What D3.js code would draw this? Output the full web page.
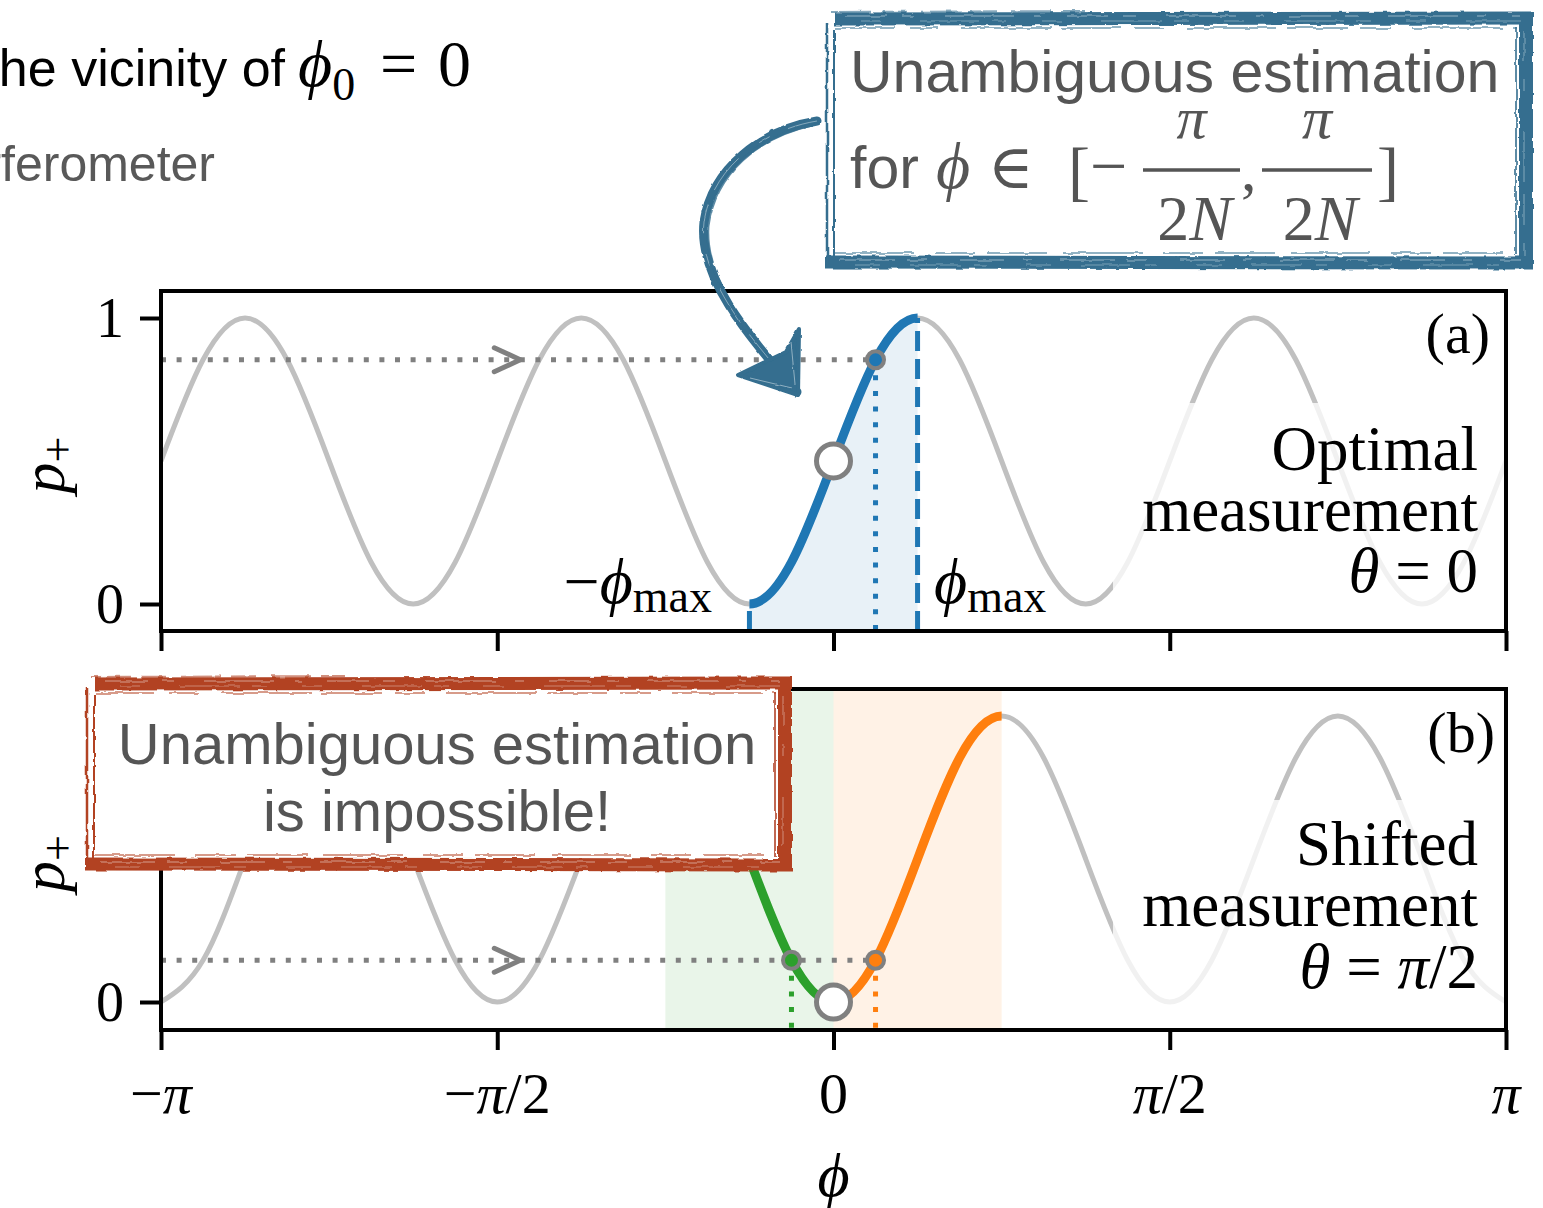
<!DOCTYPE html>
<html>
<head>
<meta charset="utf-8">
<script src="https://cdn.jsdelivr.net/npm/d3@7"></script>
<style>
  html, body { margin: 0; padding: 0; background: #fff; }
  svg { display: block; }
</style>
</head>
<body>
<svg id="fig" width="1543" height="1208"></svg>
<script>
// ---------------- data ----------------
// φ sample grid in units of π/16, covering [−π, π]
const phiSixteenths = [-16,-15,-14,-13,-12,-11,-10,-9,-8,-7,-6,-5,-4,-3,-2,-1,0,
                       1,2,3,4,5,6,7,8,9,10,11,12,13,14,15,16];
// p+ at each grid point, optimal measurement (θ = 0)
const pOptimal = [0.5,0.854,1,0.854,0.5,0.146,0,0.146,
                  0.5,0.854,1,0.854,0.5,0.146,0,0.146,
                  0.5,0.854,1,0.854,0.5,0.146,0,0.146,
                  0.5,0.854,1,0.854,0.5,0.146,0,0.146, 0.5];
// p+ at each grid point, shifted measurement (θ = π/2)
const pShifted = [0,0.146,0.5,0.854,1,0.854,0.5,0.146,
                  0,0.146,0.5,0.854,1,0.854,0.5,0.146,
                  0,0.146,0.5,0.854,1,0.854,0.5,0.146,
                  0,0.146,0.5,0.854,1,0.854,0.5,0.146, 0];

const xTickValues = [-Math.PI, -Math.PI / 2, 0, Math.PI / 2, Math.PI];
const xTickLabels = ["−π", "−π/2", "0", "π/2", "π"];
const yTickValues = [0, 1];
const yTickLabels = ["0", "1"];

const phiMax = Math.PI / 8;          // π/(2N), N = 4
const phiEstimate = Math.PI / 16;    // example phase estimate
const pEstimateOptimal = 0.854;
const pEstimateShifted = 0.146;
const phiOrigin = 0;                 // working point φ0
const pOriginOptimal = 0.5;
const pOriginShifted = 0;
const shiftedBranchLeft = [-Math.PI / 4, 0];
const shiftedBranchRight = [0, Math.PI / 4];

// ---------------- styling ----------------
const SERIF = "'Liberation Serif','DejaVu Serif',serif";
const SANS = "'Liberation Sans','Helvetica','Arial',sans-serif";
const GRAY_CURVE = "#c0c0c0";
const MARK_GRAY = "#808080";
const BLUE = "#1f77b4", GREEN = "#2ca02c", ORANGE = "#ff7f0e";
const NOTE_BLUE = "#346e8f", NOTE_RED = "#b24224";
const NOTE_TEXT = "#555555";

const svg = d3.select("#fig");
const defs = svg.append("defs");

// brush-like edge roughness for the hand-drawn notes
function roughFilter(id, freq, scale, seed) {
  const f = defs.append("filter").attr("id", id)
    .attr("filterUnits", "userSpaceOnUse")
    .attr("x", 0).attr("y", 0).attr("width", 1543).attr("height", 1208);
  f.append("feTurbulence").attr("type", "fractalNoise")
    .attr("baseFrequency", freq).attr("numOctaves", 2).attr("seed", seed).attr("result", "noise");
  f.append("feDisplacementMap").attr("in", "SourceGraphic").attr("in2", "noise")
    .attr("scale", scale).attr("xChannelSelector", "R").attr("yChannelSelector", "G");
}
roughFilter("rough", "0.09", 3.5, 5);
roughFilter("roughSoft", "0.12", 2.5, 9);

const x = d3.scaleLinear().domain([-Math.PI, Math.PI]).range([161, 1506]);

// ---------------- helpers ----------------
function drawMath(parent, px, py, parts, opt = {}) {
  const t = parent.append("text")
    .attr("x", px).attr("y", py)
    .attr("text-anchor", opt.anchor || "middle")
    .attr("font-family", opt.family || SERIF)
    .attr("font-size", opt.size || 56)
    .attr("fill", opt.fill || "#000");
  parts.forEach(p => {
    const s = t.append("tspan").text(p.t);
    if (p.it) s.attr("font-style", "italic");
    if (p.size) s.attr("font-size", p.size);
    if (p.dy) s.attr("dy", p.dy);
    if (p.dx) s.attr("dx", p.dx);
  });
  return t;
}
function splitMath(str) {
  return Array.from(str).map(c => ({ t: c, it: /[πϕθN]/.test(c) }));
}
function clipRange(id, phiA, phiB, top, bottom) {
  defs.append("clipPath").attr("id", id).append("rect")
    .attr("x", x(phiA)).attr("y", top - 20)
    .attr("width", x(phiB) - x(phiA)).attr("height", bottom - top + 40);
  return `url(#${id})`;
}
function chevron(g, cx, cy) {
  g.append("path").attr("d", `M${cx - 24},${cy - 12}L${cx + 2},${cy}L${cx - 24},${cy + 12}`)
    .attr("fill", "none").attr("stroke", MARK_GRAY).attr("stroke-width", 5)
    .attr("stroke-linecap", "round").attr("stroke-linejoin", "round");
}

const panels = [
  { id: "a", top: 291, bottom: 631, yRange: [604, 318], values: pOptimal, yLabels: [0, 1] },
  { id: "b", top: 689, bottom: 1030, yRange: [1002, 716], values: pShifted, yLabels: [0] }
];

panels.forEach(P => {
  const y = d3.scaleLinear().domain([0, 1]).range(P.yRange);
  const pts = phiSixteenths.map((k, i) => ({ phi: k * Math.PI / 16, p: P.values[i] }));
  const line = d3.line().x(d => x(d.phi)).y(d => y(d.p)).curve(d3.curveNatural);

  defs.append("clipPath").attr("id", "frame-" + P.id).append("rect")
    .attr("x", x.range()[0]).attr("y", P.top)
    .attr("width", x.range()[1] - x.range()[0]).attr("height", P.bottom - P.top);
  const g = svg.append("g").attr("clip-path", `url(#frame-${P.id})`);

  if (P.id === "a") {
    // shaded unambiguous window under the curve
    const area = d3.area().x(d => x(d.phi)).y0(P.bottom).y1(d => y(d.p)).curve(d3.curveNatural);
    g.append("path").attr("d", area(pts))
      .attr("fill", BLUE).attr("fill-opacity", 0.1)
      .attr("clip-path", clipRange("win-a", -phiMax, phiMax, P.top, P.bottom));
    g.append("path").attr("d", line(pts)).attr("fill", "none")
      .attr("stroke", GRAY_CURVE).attr("stroke-width", 5);
    // window edges
    [[-phiMax, 0], [phiMax, 1]].forEach(([ph, pv]) => {
      g.append("line").attr("x1", x(ph)).attr("x2", x(ph))
        .attr("y1", P.bottom).attr("y2", y(pv))
        .attr("stroke", BLUE).attr("stroke-width", 5).attr("stroke-dasharray", "20,8");
    });
    // reading of the measured probability
    g.append("line").attr("x1", x(-Math.PI)).attr("x2", x(phiEstimate))
      .attr("y1", y(pEstimateOptimal)).attr("y2", y(pEstimateOptimal))
      .attr("stroke", MARK_GRAY).attr("stroke-width", 5).attr("stroke-dasharray", "5,10.6");
    chevron(g, x((-Math.PI + phiEstimate) / 2), y(pEstimateOptimal));
    g.append("path").attr("d", line(pts)).attr("fill", "none")
      .attr("stroke", BLUE).attr("stroke-width", 9)
      .attr("clip-path", clipRange("seg-a", -phiMax, phiMax, P.top, P.bottom));
    g.append("line").attr("x1", x(phiEstimate)).attr("x2", x(phiEstimate))
      .attr("y1", y(pEstimateOptimal)).attr("y2", P.bottom)
      .attr("stroke", BLUE).attr("stroke-width", 5).attr("stroke-dasharray", "5,10.6");
    g.append("circle").attr("cx", x(phiEstimate)).attr("cy", y(pEstimateOptimal)).attr("r", 8.5)
      .attr("fill", BLUE).attr("stroke", MARK_GRAY).attr("stroke-width", 4);
    g.append("circle").attr("cx", x(phiOrigin)).attr("cy", y(pOriginOptimal)).attr("r", 17)
      .attr("fill", "#fff").attr("stroke", MARK_GRAY).attr("stroke-width", 5);
    // text backdrop
    g.append("rect").attr("x", 1113).attr("y", 403).attr("width", 420).attr("height", 212)
      .attr("fill", "#fff").attr("fill-opacity", 0.78);
  } else {
    g.append("rect").attr("x", x(shiftedBranchLeft[0])).attr("y", P.top)
      .attr("width", x(shiftedBranchLeft[1]) - x(shiftedBranchLeft[0])).attr("height", P.bottom - P.top)
      .attr("fill", GREEN).attr("fill-opacity", 0.1);
    g.append("rect").attr("x", x(shiftedBranchRight[0])).attr("y", P.top)
      .attr("width", x(shiftedBranchRight[1]) - x(shiftedBranchRight[0])).attr("height", P.bottom - P.top)
      .attr("fill", ORANGE).attr("fill-opacity", 0.1);
    g.append("path").attr("d", line(pts)).attr("fill", "none")
      .attr("stroke", GRAY_CURVE).attr("stroke-width", 5);
    g.append("line").attr("x1", x(-Math.PI)).attr("x2", x(phiEstimate))
      .attr("y1", y(pEstimateShifted)).attr("y2", y(pEstimateShifted))
      .attr("stroke", MARK_GRAY).attr("stroke-width", 5).attr("stroke-dasharray", "5,10.6");
    chevron(g, x((-Math.PI + phiEstimate) / 2), y(pEstimateShifted));
    g.append("path").attr("d", line(pts)).attr("fill", "none")
      .attr("stroke", GREEN).attr("stroke-width", 9)
      .attr("clip-path", clipRange("seg-bl", shiftedBranchLeft[0], shiftedBranchLeft[1], P.top, P.bottom));
    g.append("path").attr("d", line(pts)).attr("fill", "none")
      .attr("stroke", ORANGE).attr("stroke-width", 9)
      .attr("clip-path", clipRange("seg-br", shiftedBranchRight[0], shiftedBranchRight[1], P.top, P.bottom));
    [[-phiEstimate, GREEN], [phiEstimate, ORANGE]].forEach(([ph, col]) => {
      g.append("line").attr("x1", x(ph)).attr("x2", x(ph))
        .attr("y1", y(pEstimateShifted)).attr("y2", P.bottom)
        .attr("stroke", col).attr("stroke-width", 5).attr("stroke-dasharray", "5,10.6");
    });
    [[-phiEstimate, GREEN], [phiEstimate, ORANGE]].forEach(([ph, col]) => {
      g.append("circle").attr("cx", x(ph)).attr("cy", y(pEstimateShifted)).attr("r", 8.5)
        .attr("fill", col).attr("stroke", MARK_GRAY).attr("stroke-width", 4);
    });
    g.append("circle").attr("cx", x(phiOrigin)).attr("cy", y(pOriginShifted)).attr("r", 17)
      .attr("fill", "#fff").attr("stroke", MARK_GRAY).attr("stroke-width", 5);
    g.append("rect").attr("x", 1113).attr("y", 800).attr("width", 420).attr("height", 212)
      .attr("fill", "#fff").attr("fill-opacity", 0.78);
  }

  // frame and ticks
  svg.append("rect").attr("x", x.range()[0]).attr("y", P.top)
    .attr("width", x.range()[1] - x.range()[0]).attr("height", P.bottom - P.top)
    .attr("fill", "none").attr("stroke", "#000").attr("stroke-width", 4);
  const yAxis = svg.append("g").attr("transform", `translate(${x.range()[0]},0)`)
    .call(d3.axisLeft(y).tickValues(yTickValues).tickSize(21).tickFormat(""));
  yAxis.select(".domain").remove();
  yAxis.selectAll(".tick line").attr("stroke", "#000").attr("stroke-width", 4);
  const xAxis = svg.append("g").attr("transform", `translate(0,${P.bottom})`)
    .call(d3.axisBottom(x).tickValues(xTickValues).tickSize(20).tickFormat(""));
  xAxis.select(".domain").remove();
  xAxis.selectAll(".tick line").attr("stroke", "#000").attr("stroke-width", 4);

  // tick labels (the upper one of panel (b) sits under the note box)
  P.yLabels.forEach(v => {
    drawMath(svg, 124, y(v) + 19, splitMath(yTickLabels[yTickValues.indexOf(v)]), { anchor: "end", size: 56 });
  });
  // y label p+
  const yl = drawMath(svg, 0, 0, [{ t: "p", it: true }, { t: "+", size: 46, dy: 9 }], { size: 62 });
  yl.attr("transform", `translate(64,${(P.top + P.bottom) / 2 + 4}) rotate(-90)`);
});

// panel letters and measurement captions
drawMath(svg, 1490, 353, splitMath("(a)"), { anchor: "end", size: 58 });
drawMath(svg, 1495, 752, splitMath("(b)"), { anchor: "end", size: 58 });
[["Optimal", 470], ["measurement", 531]].forEach(([t, by]) =>
  drawMath(svg, 1478, by, [{ t }], { anchor: "end", size: 63 }));
drawMath(svg, 1478, 592, [{ t: "θ", it: true }, { t: " = 0" }], { anchor: "end", size: 63 });
[["Shifted", 865], ["measurement", 926]].forEach(([t, by]) =>
  drawMath(svg, 1478, by, [{ t }], { anchor: "end", size: 63 }));
drawMath(svg, 1478, 988, [{ t: "θ", it: true }, { t: " = " }, { t: "π", it: true }, { t: "/2" }],
  { anchor: "end", size: 63 });

// window edge labels
drawMath(svg, 712, 603, [{ t: "−" }, { t: "ϕ", it: true }, { t: "max", size: 46, dy: 9 }],
  { anchor: "end", size: 64 });
drawMath(svg, 934, 603, [{ t: "ϕ", it: true }, { t: "max", size: 46, dy: 9 }],
  { anchor: "start", size: 64 });

// x tick labels and axis label
xTickValues.forEach((v, i) => {
  drawMath(svg, x(v), 1113, splitMath(xTickLabels[i]), { size: 58 });
});
drawMath(svg, x(0), 1196, [{ t: "ϕ", it: true }], { size: 62 });

// heading fragments
svg.append("text").attr("x", 285).attr("y", 86).attr("text-anchor", "end")
  .attr("font-family", SANS).attr("font-size", 52).attr("fill", "#000").text("the vicinity of");
drawMath(svg, 298, 86, [{ t: "ϕ", it: true }, { t: "0", size: 46, dy: 14 }], { anchor: "start", size: 66 });
drawMath(svg, 380, 86, [{ t: "=" }], { anchor: "start", size: 66 });
drawMath(svg, 438, 86, [{ t: "0" }], { anchor: "start", size: 66 });
svg.append("text").attr("x", 215).attr("y", 181).attr("text-anchor", "end")
  .attr("font-family", SANS).attr("font-size", 50).attr("fill", "#595959").text("interferometer");

// ---------------- hand-drawn notes ----------------
function roughBox(b, color) {
  const { x0, y0, x1, y1 } = b;
  svg.append("rect").attr("x", x0 + 2).attr("y", y0 + 2)
    .attr("width", x1 - x0 - 4).attr("height", y1 - y0 - 4).attr("fill", "#fff");
  const g = svg.append("g").attr("filter", "url(#rough)");
  const seg = (xa, ya, xb, yb, w, extra = {}) => {
    const l = g.append("line").attr("x1", xa).attr("y1", ya).attr("x2", xb).attr("y2", yb)
      .attr("stroke", extra.stroke || color).attr("stroke-width", w)
      .attr("stroke-linecap", "butt");
    if (extra.dash) l.attr("stroke-dasharray", extra.dash);
    if (extra.op) l.attr("stroke-opacity", extra.op);
  };
  // heavy strokes on top, right and bottom
  seg(x0 + 10, y0 + 8, x1 - 2, y0 + 7, 13);
  seg(x1 - 7, y0 + 1, x1 - 7, y1, 14);
  seg(x0, y1 - 7, x1, y1 - 6, 13);
  // light double stroke on the left
  seg(x0 + 2, y0 + 12, x0 + 2, y1 - 4, 2.5);
  seg(x0 + 9, y0 + 18, x0 + 9, y1 - 12, 2);
  // inner trailing strokes
  seg(x0 + 10, y0 + 17, x1 - 16, y0 + 17, 1.6, { op: 0.7, dash: "60,14,30,22,90,10" });
  seg(x1 - 17, y0 + 16, x1 - 17, y1 - 14, 2, { op: 0.8 });
  seg(x0 + 10, y1 - 16, x1 - 16, y1 - 16, 1.6, { op: 0.7, dash: "80,20,40,12,60,16" });
  seg(x0 + 6, y0 + 1, x0 + 260, y0, 2, { op: 0.6, dash: "40,10,25,15" });
  // dry-brush streaks
  seg(x0 + 20, y0 + 5, x1 - 12, y0 + 5, 0.9, { stroke: "#fff", op: 0.55, dash: "42,15,12,30,70,20,8,25" });
  seg(x0 + 35, y0 + 10, x1 - 12, y0 + 10, 0.8, { stroke: "#fff", op: 0.45, dash: "20,40,60,12,15,35" });
  seg(x0 + 15, y1 - 9, x1 - 12, y1 - 9, 0.9, { stroke: "#fff", op: 0.55, dash: "55,12,20,33,45,18,9,28" });
  seg(x0 + 30, y1 - 4, x1 - 15, y1 - 4, 0.8, { stroke: "#fff", op: 0.45, dash: "25,30,50,14,12,40" });
  seg(x1 - 9, y0 + 20, x1 - 9, y1 - 12, 0.8, { stroke: "#fff", op: 0.5, dash: "30,18,12,40,50,14" });
}

// note on panel (b)
roughBox({ x0: 85, y0: 676, x1: 792, y1: 871 }, NOTE_RED);
svg.append("text").attr("x", 437).attr("y", 764).attr("text-anchor", "middle")
  .attr("font-family", SANS).attr("font-size", 58).attr("fill", NOTE_TEXT).text("Unambiguous estimation");
svg.append("text").attr("x", 437).attr("y", 831).attr("text-anchor", "middle")
  .attr("font-family", SANS).attr("font-size", 58).attr("fill", NOTE_TEXT).text("is impossible!");

// note on panel (a)
roughBox({ x0: 825, y0: 11, x1: 1533, y1: 269 }, NOTE_BLUE);
svg.append("text").attr("x", 850).attr("y", 92).attr("text-anchor", "start")
  .attr("font-family", SANS).attr("font-size", 59).attr("fill", NOTE_TEXT).text("Unambiguous estimation");
svg.append("text").attr("x", 850).attr("y", 188).attr("text-anchor", "start")
  .attr("font-family", SANS).attr("font-size", 59).attr("fill", NOTE_TEXT).text("for");
drawMath(svg, 936, 188, [{ t: "ϕ", it: true }], { anchor: "start", size: 66, fill: NOTE_TEXT });
drawMath(svg, 988, 188, [{ t: "∈" }], { anchor: "start", size: 62, fill: NOTE_TEXT });
drawMath(svg, 1068, 193, [{ t: "[" }], { anchor: "start", size: 66, fill: NOTE_TEXT });
drawMath(svg, 1090, 188, [{ t: "−" }], { anchor: "start", size: 66, fill: NOTE_TEXT });
[[1143, 1240], [1262, 1372]].forEach(([fa, fb]) => {
  svg.append("line").attr("x1", fa).attr("x2", fb).attr("y1", 170).attr("y2", 170)
    .attr("stroke", NOTE_TEXT).attr("stroke-width", 3.5);
  drawMath(svg, (fa + fb) / 2, 138, [{ t: "π", it: true }], { size: 60, fill: NOTE_TEXT });
  drawMath(svg, (fa + fb) / 2 + 3, 240, [{ t: "2" }, { t: "N", it: true }], { size: 64, fill: NOTE_TEXT });
});
drawMath(svg, 1241, 190, [{ t: "," }], { anchor: "start", size: 62, fill: NOTE_TEXT });
drawMath(svg, 1377, 193, [{ t: "]" }], { anchor: "start", size: 66, fill: NOTE_TEXT });

// curved pointer from the note to the estimate
const arrow = svg.append("g").attr("filter", "url(#roughSoft)");
const shaft = "M817,121 C762,130 712,168 704,222 C698,278 748,335 797,392";
arrow.append("path").attr("d", shaft).attr("fill", "none")
  .attr("stroke", NOTE_BLUE).attr("stroke-width", 9).attr("stroke-linecap", "round");
arrow.append("path").attr("d", "M812,125 C758,137 715,173 708,226 C704,282 752,338 794,390")
  .attr("fill", "none").attr("stroke", NOTE_BLUE).attr("stroke-width", 3).attr("stroke-opacity", 0.8);
arrow.append("path").attr("d", shaft).attr("fill", "none")
  .attr("stroke", "#fff").attr("stroke-width", 0.9).attr("stroke-opacity", 0.45)
  .attr("stroke-dasharray", "30,20,12,26,40,15");
arrow.append("path").attr("d", "M738,375 L798,395 L799,329 L786,352 Z")
  .attr("fill", NOTE_BLUE).attr("stroke", NOTE_BLUE).attr("stroke-width", 4)
  .attr("stroke-linejoin", "round");
arrow.append("path").attr("d", "M750,378 L792,388 M791,342 L795,384")
  .attr("stroke", "#fff").attr("stroke-width", 1).attr("stroke-opacity", 0.45);
</script>
</body>
</html>
